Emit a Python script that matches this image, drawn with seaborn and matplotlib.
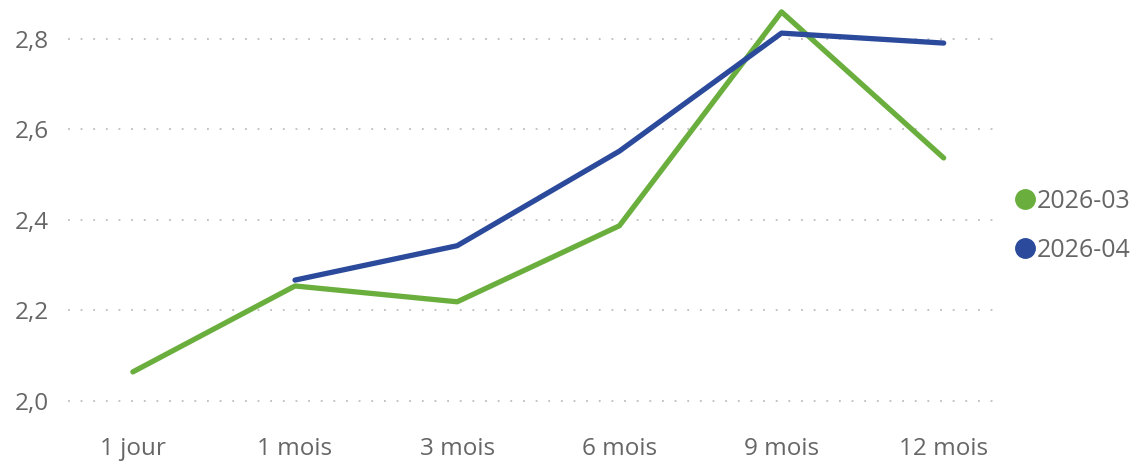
import numpy as np
import pandas as pd
import matplotlib.pyplot as plt
import seaborn as sns
from matplotlib.ticker import FuncFormatter
from matplotlib.lines import Line2D

sns.set_style("white")
plt.rcParams['font.family'] = ['Open Sans', 'DejaVu Sans']

# données
echeances = ['1 jour', '1 mois', '3 mois', '6 mois', '9 mois', '12 mois']
serie_mars = [2.064, 2.254, 2.219, 2.387, 2.860, 2.537]
serie_avril = [np.nan, 2.267, 2.343, 2.552, 2.813, 2.791]
series = ['2026-03', '2026-04']
couleurs = ['#6AAF3D', '#2B4A9B']

df = pd.DataFrame({
    'pos': list(range(len(echeances))) * 2,
    'valeur': serie_mars + serie_avril,
    'serie': [series[0]] * len(echeances) + [series[1]] * len(echeances),
})

fig = plt.figure(figsize=(11.33, 4.62), dpi=100)
ax = fig.add_axes([0.060, 0.102, 0.823, 0.887])

sns.lineplot(data=df.dropna(), x='pos', y='valeur', hue='serie', palette=couleurs,
             linewidth=3.8, legend=False, ax=ax, solid_capstyle='round')

ax.set_xlim(-0.4, 5.35)
ax.set_ylim(1.969, 2.875)
ax.set_xticks(range(len(echeances)))
ax.set_xticklabels(echeances)
ax.set_yticks([2.0, 2.2, 2.4, 2.6, 2.8])
ax.yaxis.set_major_formatter(FuncFormatter(lambda v, p: f'{v:.1f}'.replace('.', ',')))
ax.set_xlabel('')
ax.set_ylabel('')
ax.grid(True, axis='y', linestyle=(0, (1, 6)), color='#BDBDBD', linewidth=1.3)
ax.grid(False, axis='x')
for s in ax.spines.values():
    s.set_visible(False)
ax.tick_params(axis='both', length=0, labelsize=17.5, labelcolor='#666666')
ax.tick_params(axis='x', pad=16)
ax.tick_params(axis='y', pad=14)

handles = [Line2D([], [], marker='o', linestyle='', color=c, markersize=14) for c in couleurs]
fig.legend(handles, series, loc='center left', bbox_to_anchor=(0.886, 0.511),
           frameon=False, fontsize=18, labelcolor='#666666', handletextpad=0.0,
           labelspacing=0.95, handlelength=0.9, borderaxespad=0.0)

fig.savefig('out.png', dpi=100)
